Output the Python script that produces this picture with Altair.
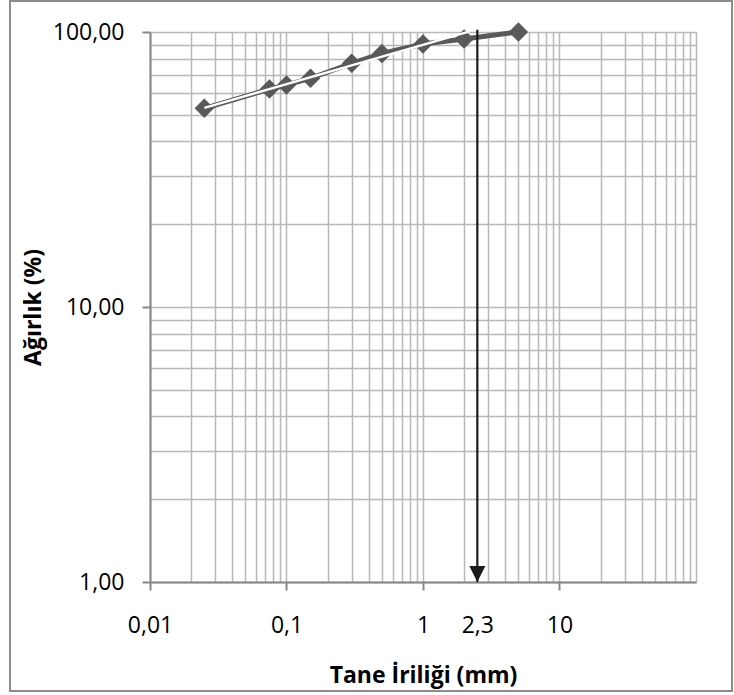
import altair as alt
import pandas as pd

# ---- data ----
size_mm = [0.025, 0.075, 0.1, 0.15, 0.3, 0.5, 1.0, 2.0, 5.0]
passing_pct = [52.8, 62.0, 64.1, 67.9, 76.9, 83.6, 90.4, 94.3, 100.0]

trend_x = [0.025, 2.2]
trend_y = [53.0, 100.5]

d60_pos = 2.5          # where the arrow is drawn
d60_text = "2,3"       # its label
arrow_y = [102.0, 1.0]

x_label_values = [0.01, 0.1, 1, 10]
y_label_values = [1, 10, 100]
x_grid_values = [m * 10 ** e for e in range(-2, 2) for m in range(1, 10)] + [100]
y_grid_values = [m * 10 ** e for e in range(0, 2) for m in range(1, 10)] + [100]

x_title = "Tane İriliği (mm)"
y_title = "Ağırlık (%)"

FONT = "Open Sans"
FS = 23
GRAY = "#595959"
AXIS_GRAY = "#868686"

pts = pd.DataFrame({"x": size_mm, "y": passing_pct})
trend = pd.DataFrame({"x": trend_x, "y": trend_y})
arrow = pd.DataFrame({"x": [d60_pos], "y": [arrow_y[0]], "y2": [arrow_y[1]]})
arrow_head = pd.DataFrame({"x": [d60_pos], "y": [arrow_y[1]]})
frame = pd.DataFrame({"a": [0]})

xs = alt.Scale(type="log", domain=[0.01, 100], nice=False)
ys = alt.Scale(type="log", domain=[1, 100], nice=False)

grid_x_axis = alt.Axis(values=x_grid_values, grid=True, gridColor="#b8b8b8", gridWidth=1.5,
                       labels=False, ticks=False, domain=False, title=None, orient="bottom")
grid_y_axis = alt.Axis(values=y_grid_values, grid=True, gridColor="#b8b8b8", gridWidth=1.5,
                       labels=False, ticks=False, domain=False, title=None, orient="left")

label_x_axis = alt.Axis(
    values=x_label_values + [d60_pos],
    labelExpr=f"datum.value == {d60_pos} ? '{d60_text}' : replace(toString(datum.value), '.', ',')",
    grid=False, orient="bottom",
    domainColor=AXIS_GRAY, domainWidth=2,
    tickColor=AXIS_GRAY, tickWidth=2, tickSize=8,
    tickOpacity={"condition": {"test": f"datum.value == {d60_pos}", "value": 0}, "value": 1},
    labelFont=FONT, labelFontSize=FS, labelColor="black",
    labelBaseline="middle", labelPadding=35, labelOverlap=False, labelFlush=False,
    title=x_title, titleFont=FONT, titleFontSize=FS, titleFontWeight="bold", titleColor="black",
    titleX=273, titleY=93, titleBaseline="middle", titleAlign="center",
)
label_y_axis = alt.Axis(
    values=y_label_values,
    labelExpr="replace(format(datum.value, '.2f'), '.', ',')",
    grid=False, orient="left",
    domainColor=AXIS_GRAY, domainWidth=2,
    tickColor=AXIS_GRAY, tickWidth=2, tickSize=8,
    labelFont=FONT, labelFontSize=FS, labelColor="black",
    labelPadding=18, labelOverlap=False, labelFlush=False,
    title=y_title, titleFont=FONT, titleFontSize=FS, titleFontWeight="bold", titleColor="black",
    titleX=-117, titleY=275, titleAngle=-90, titleBaseline="middle", titleAlign="center",
)

line = alt.Chart(pts).mark_line(color=GRAY, strokeWidth=5).encode(
    x=alt.X("x:Q", scale=xs, axis=grid_x_axis),
    y=alt.Y("y:Q", scale=ys, axis=grid_y_axis),
)
points = alt.Chart(pts).mark_point(shape="diamond", filled=True, size=380, color=GRAY, opacity=1).encode(
    x=alt.X("x:Q", scale=xs, axis=label_x_axis),
    y=alt.Y("y:Q", scale=ys, axis=label_y_axis),
)
trend_line = alt.Chart(trend).mark_line(color="white", strokeWidth=2.4).encode(
    x=alt.X("x:Q", scale=xs, axis=None),
    y=alt.Y("y:Q", scale=ys, axis=None),
)
arrow_line = alt.Chart(arrow).mark_rule(color="#1a1a1a", strokeWidth=2.2).encode(
    x=alt.X("x:Q", scale=xs, axis=None),
    y=alt.Y("y:Q", scale=ys, axis=None),
    y2="y2:Q",
)
head = alt.Chart(arrow_head).mark_point(
    shape="M-0.5,-1L0.5,-1L0,0Z", filled=True, size=1024, color="#1a1a1a", opacity=1
).encode(
    x=alt.X("x:Q", scale=xs, axis=None),
    y=alt.Y("y:Q", scale=ys, axis=None),
)
border = alt.Chart(frame).mark_rect(fillOpacity=0, stroke="#8c8c8c", strokeWidth=2).encode(
    x=alt.value(-140), x2=alt.value(582), y=alt.value(-31), y2=alt.value(659)
)

chart = alt.layer(line, points, trend_line, arrow_line, head, border).resolve_axis(
    x="independent", y="independent"
).properties(
    width=546, height=550,
    padding={"left": 150, "top": 32, "right": 38, "bottom": 113},
    autosize=alt.AutoSizeParams(type="none"),
    background="white",
).configure_view(stroke=None)

chart.save("out.html", embed_options={"renderer": "svg", "actions": False})
